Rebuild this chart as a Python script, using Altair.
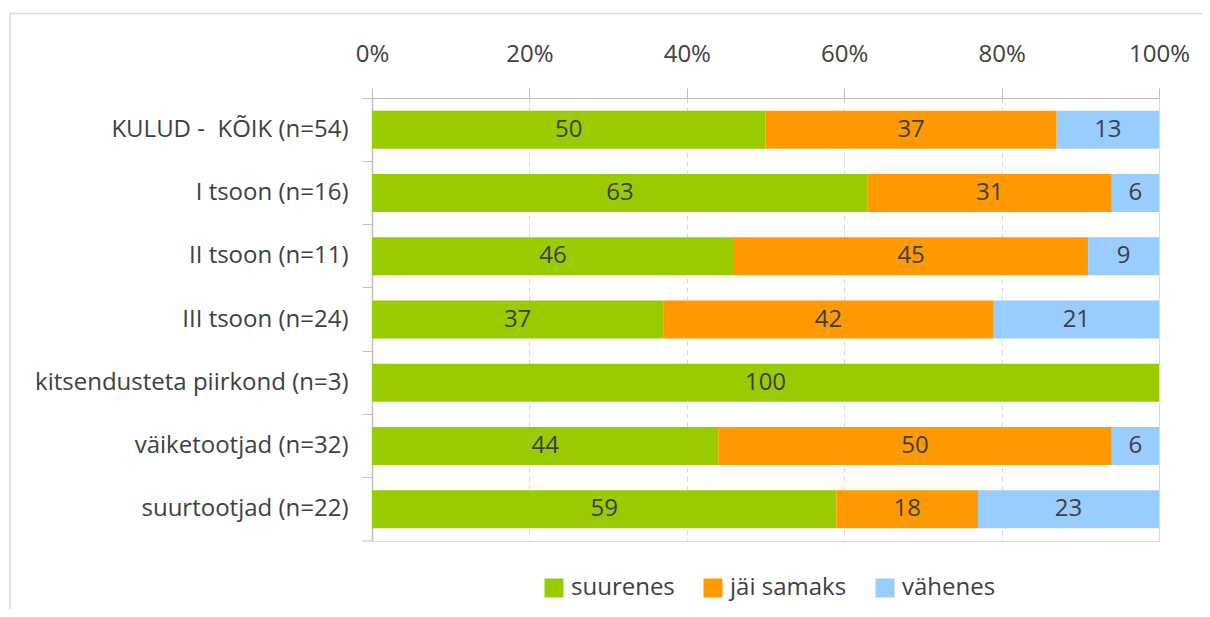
import altair as alt
import pandas as pd

categories = [
    "KULUD -\u00a0 KÕIK (n=54)",
    "I tsoon (n=16)",
    "II tsoon (n=11)",
    "III tsoon (n=24)",
    "kitsendusteta piirkond (n=3)",
    "väiketootjad (n=32)",
    "suurtootjad (n=22)",
]
series = ["suurenes", "jäi samaks", "vähenes"]
suurenes = [50, 63, 46, 37, 100, 44, 59]
jai_samaks = [37, 31, 45, 42, 0, 50, 18]
vahenes = [13, 6, 9, 21, 0, 6, 23]
colors = ["#99CC00", "#FF9900", "#99CCFF"]
x_ticks = [0, 20, 40, 60, 80, 100]

rows = []
for i, c in enumerate(categories):
    for j, (s, vals) in enumerate(zip(series, [suurenes, jai_samaks, vahenes])):
        rows.append({"category": c, "series": s, "order": j, "value": vals[i]})
df = pd.DataFrame(rows)

FONT = "Open Sans"
TXT = "#404040"
FS = 24

base = alt.Chart(df).transform_stack(
    stack="value", groupby=["category"], as_=["x0", "x1"],
    sort=[alt.SortField("order", order="ascending")],
).transform_calculate(mid="(datum.x0 + datum.x1) / 2")

y_enc = alt.Y(
    "category:N", sort=categories, title=None,
    scale=alt.Scale(paddingInner=0.4, paddingOuter=0.2),
    axis=alt.Axis(
        labelFont=FONT, labelFontSize=FS, labelColor=TXT, labelPadding=14,
        tickSize=10, tickColor="#bfbfbf", domainColor="#bfbfbf", domainWidth=1.5,
        bandPosition=-0.3333, labelLimit=400, grid=False,
    ),
)

bars = base.mark_bar().encode(
    x=alt.X(
        "x0:Q", title=None,
        scale=alt.Scale(domain=[0, 100], nice=False),
        axis=alt.Axis(
            orient="top", values=x_ticks, labelExpr="datum.value + '%'",
            labelFont=FONT, labelFontSize=FS, labelColor=TXT, labelPadding=22,
            labelFlush=False, labelOverlap=False,
            tickSize=10, tickColor="#bfbfbf", domainColor="#bfbfbf",
            grid=True, gridColor="#d9d9d9", gridDash=[5, 4],
        ),
    ),
    x2="x1:Q",
    y=y_enc,
    color=alt.Color(
        "series:N", sort=series, title=None,
        scale=alt.Scale(domain=series, range=colors),
        legend=alt.Legend(
            orient="none", legendX=170, legendY=478, direction="horizontal",
            symbolType="square", symbolSize=361, symbolStrokeWidth=0,
            labelFont=FONT, labelFontSize=FS, labelColor=TXT, labelOffset=5,
            columnPadding=26,
        ),
    ),
)

labels = base.transform_filter("datum.value > 0").mark_text(
    font=FONT, fontSize=FS, color=TXT, baseline="middle", align="center"
).encode(
    x=alt.X("mid:Q"),
    y=alt.Y("category:N", sort=categories),
    text="value:Q",
)

one = alt.Data(values=[{"k": 1}])
bottom_tick = alt.Chart(one).mark_rule(color="#bfbfbf", strokeWidth=1).encode(
    x=alt.value(-10), x2=alt.value(0), y=alt.value(443)
)
frame_top = alt.Chart(one).mark_rule(color="#d9d9d9", strokeWidth=1.5).encode(
    x=alt.value(-362), x2=alt.value(840), y=alt.value(-84.5)
)
frame_left = alt.Chart(one).mark_rule(color="#d9d9d9", strokeWidth=1.5).encode(
    x=alt.value(-362), y=alt.value(-84.5), y2=alt.value(520)
)

chart = alt.layer(bars, labels, bottom_tick, frame_top, frame_left).properties(
    width=787, height=443,
    padding={"left": 364, "top": 90, "right": 43, "bottom": 68},
    autosize=alt.AutoSizeParams(type="none"),
).configure_view(stroke="#bfbfbf", strokeWidth=1).configure(background="white")

chart.save("out.html", embed_options={"renderer": "svg", "actions": False})
